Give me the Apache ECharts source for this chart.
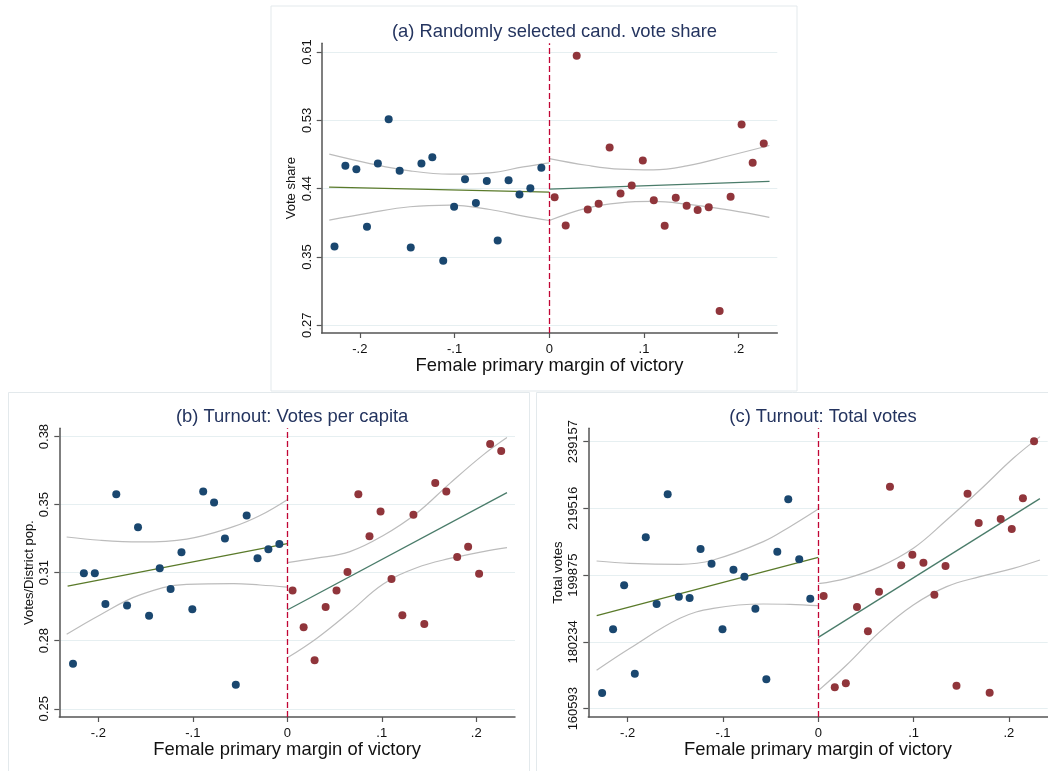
<!DOCTYPE html>
<html>
<head>
<meta charset="utf-8">
<script src="https://cdn.jsdelivr.net/npm/echarts@6/dist/echarts.min.js"></script>
<style>
html,body{margin:0;padding:0;background:#fff;}
#chart{width:1048px;height:771px;}
</style>
</head>
<body>
<div id="chart"></div>
<script>
// ---------- DATA ----------
const binsLeft = [-0.2268,-0.2153,-0.2037,-0.1925,-0.1810,-0.1696,-0.1580,-0.1463,-0.1350,-0.1235,-0.1120,-0.1005,-0.0890,-0.0775,-0.0660,-0.0545,-0.0430,-0.0315,-0.0200,-0.0084];
const binsRight = [0.0056,0.0173,0.0289,0.0406,0.0521,0.0637,0.0752,0.0870,0.0987,0.1103,0.1218,0.1335,0.1450,0.1566,0.1683,0.1798,0.1914,0.2030,0.2147,0.2264];

const xTicks = [-0.2,-0.1,0,0.1,0.2];
const xTickLabels = ['-.2','-.1','0','.1','.2'];

// (a) Randomly selected cand. vote share
const voteShareLeft = [0.3673,0.4687,0.4645,0.3920,0.4716,0.5274,0.4624,0.3660,0.4716,0.4797,0.3492,0.4171,0.4520,0.4218,0.4495,0.3749,0.4507,0.4327,0.4406,0.4662];
const voteShareRight = [0.4293,0.3937,0.6074,0.4138,0.4209,0.4918,0.4339,0.4440,0.4754,0.4255,0.3933,0.4285,0.4184,0.4130,0.4167,0.2860,0.4297,0.5207,0.4725,0.4968];
const fitXLeft = [-0.2325, 0];
const fitXRight = [0, 0.2325];
const voteShareFitLeft = [0.4419, 0.4356];
const voteShareFitRight = [0.4394, 0.4491];
const ciXLeftA = [-0.2323,-0.1894,-0.1471,-0.1049,-0.0627,-0.0275,0];
const ciXRightA = [0,0.0394,0.0746,0.1098,0.1450,0.1908,0.2323];
const voteShareCiLeftUp = [0.4834,0.4716,0.4624,0.4582,0.4599,0.4674,0.4725];
const voteShareCiLeftLo = [0.4004,0.4096,0.4172,0.4193,0.4138,0.4054,0.3999];
const voteShareCiRightUp = [0.4779,0.4695,0.4645,0.4636,0.4687,0.4817,0.4943];
const voteShareCiRightLo = [0.3999,0.4155,0.4222,0.4239,0.4205,0.4130,0.4038];
const yTicksA = [0.268,0.354,0.440,0.526,0.612];
const yTickLabelsA = ['0.27','0.35','0.44','0.53','0.61'];

// (b) Turnout: Votes per capita
const perCapitaLeft = [0.2688,0.3127,0.3127,0.2978,0.3510,0.2971,0.3350,0.2921,0.3151,0.3051,0.3229,0.2952,0.3523,0.3470,0.3295,0.2586,0.3407,0.3200,0.3243,0.3269];
const perCapitaRight = [0.3044,0.2865,0.2705,0.2963,0.3043,0.3133,0.3510,0.3306,0.3426,0.3099,0.2923,0.3411,0.2881,0.3565,0.3523,0.3206,0.3255,0.3125,0.3754,0.3720];
const perCapitaFitLeft = [0.3065, 0.3271];
const perCapitaFitRight = [0.2949, 0.3518];
const ciXLeftB = [-0.2335,-0.1982,-0.1559,-0.1065,-0.0571,-0.0289,0];
const ciXRightB = [0,0.0310,0.0663,0.1016,0.1369,0.1721,0.2074,0.2325];
const perCapitaCiLeftUp = [0.3303,0.3287,0.3279,0.3293,0.3353,0.3407,0.3484];
const perCapitaCiLeftLo = [0.2831,0.2925,0.3022,0.3073,0.3077,0.3070,0.3060];
const perCapitaCiRightUp = [0.3179,0.3200,0.3232,0.3310,0.3418,0.3563,0.3701,0.3785];
const perCapitaCiRightLo = [0.2717,0.2811,0.2940,0.3075,0.3154,0.3199,0.3232,0.3251];
const yTicksB = [0.247,0.280,0.313,0.346,0.379];
const yTickLabelsB = ['0.25','0.28','0.31','0.35','0.38'];

// (c) Turnout: Total votes
const totalLeft = [165203,183936,196883,170891,211006,191390,223660,193548,193156,207573,203258,183936,201492,199433,190017,169224,206789,222191,204533,192959];
const totalRight = [193744,166870,168047,190507,183348,195019,225914,202767,205906,203552,194136,202571,167361,223855,215224,165301,216401,213458,222482,239257];
const totalFitLeft = [187957, 205121];
const totalFitRight = [181582, 222383];
const ciXLeftC = [-0.2326,-0.1976,-0.1452,-0.1102,-0.0577,-0.0297,0];
const ciXRightC = [0,0.0297,0.0647,0.0997,0.1347,0.1696,0.2046,0.2326];
const totalCiLeftUp = [204043,203356,203062,204337,209731,214145,219343];
const totalCiLeftLo = [171872,178346,187173,190117,191390,191292,190900];
const totalCiRightUp = [197373,198942,202375,207769,216106,224933,234251,240626];
const totalCiRightLo = [165889,173441,183250,191096,196490,199433,201885,204337];
const yTicksC = [160593,180234,199875,219516,239157];
const yTickLabelsC = ['160593','180234','199875','219516','239157'];

const titles = ['(a) Randomly selected cand. vote share','(b) Turnout: Votes per capita','(c) Turnout: Total votes'];
const yNames = ['Vote share','Votes/District pop.','Total votes'];
const xName = 'Female primary margin of victory';

// ---------- STYLE / LAYOUT ----------
const FONT = '"Liberation Sans", Arial, Helvetica, sans-serif';
const BLUE = '#1a476f', RED = '#90353b', GREEN_L = '#5a7a2a', GREEN_R = '#4a7c6a', CI = '#bcbcbc';
const TITLE_C = '#24345f';

const panels = [
  {grid:{left:321.7, top:43.3, width:455.6, height:289.7}, xr:[-0.2403,0.2407], yr:[0.2583,0.623],
   yt:yTicksA, yl:yTickLabelsA, L:voteShareLeft, R:voteShareRight, fL:voteShareFitLeft, fR:voteShareFitRight,
   cxL:ciXLeftA, cxR:ciXRightA, cLU:voteShareCiLeftUp, cLL:voteShareCiLeftLo, cRU:voteShareCiRightUp, cRL:voteShareCiRightLo},
  {grid:{left:59.3, top:428.3, width:455.7, height:288.7}, xr:[-0.2413,0.241], yr:[0.243,0.383],
   yt:yTicksB, yl:yTickLabelsB, L:perCapitaLeft, R:perCapitaRight, fL:perCapitaFitLeft, fR:perCapitaFitRight,
   cxL:ciXLeftB, cxR:ciXRightB, cLU:perCapitaCiLeftUp, cLL:perCapitaCiLeftLo, cRU:perCapitaCiRightUp, cRL:perCapitaCiRightLo},
  {grid:{left:588.3, top:428.3, width:459.4, height:288.7}, xr:[-0.2413,0.2407], yr:[158141,243080],
   yt:yTicksC, yl:yTickLabelsC, L:totalLeft, R:totalRight, fL:totalFitLeft, fR:totalFitRight,
   cxL:ciXLeftC, cxR:ciXRightC, cLU:totalCiLeftUp, cLL:totalCiLeftLo, cRU:totalCiRightUp, cRL:totalCiRightLo}
];

function zip(xs, ys){ return xs.map((x,i)=>[x, ys[i]]); }
function labelFor(ticks, labels){
  return function(v){
    let best = 0, bd = Infinity;
    ticks.forEach((t,i)=>{ const d=Math.abs(t-v); if(d<bd){bd=d;best=i;} });
    return labels[best];
  };
}

const option = {
  backgroundColor:'#ffffff',
  animation:false,
  textStyle:{fontFamily:FONT},
  title:[], grid:[], xAxis:[], yAxis:[], series:[],
  graphic:[
    {type:'rect', shape:{x:271,y:6,width:526,height:385}, style:{fill:'none', stroke:'#e3e9ec', lineWidth:1}, silent:true},
    {type:'rect', shape:{x:8.5,y:392.5,width:521,height:390}, style:{fill:'none', stroke:'#e3e9ec', lineWidth:1}, silent:true},
    {type:'rect', shape:{x:536.5,y:392.5,width:530,height:390}, style:{fill:'none', stroke:'#e3e9ec', lineWidth:1}, silent:true}
  ]
};

panels.forEach((p, i) => {
  const g = p.grid;
  option.title.push({
    text:titles[i], left:g.left + g.width/2, textAlign:'center',
    top: i===0 ? 18 : 403,
    textStyle:{fontFamily:FONT, fontSize:18.4, fontWeight:'normal', color:TITLE_C}
  });
  option.grid.push({left:g.left, top:g.top, width:g.width, height:g.height, containLabel:false});
  option.xAxis.push({
    type:'value', gridIndex:i, min:p.xr[0], max:p.xr[1],
    name:xName, nameLocation:'middle', nameGap:24,
    nameTextStyle:{fontFamily:FONT, fontSize:18.4, color:'#111'},
    axisLine:{show:true, onZero:false, lineStyle:{color:'#555', width:1.5}},
    axisTick:{show:true, length:5, lineStyle:{color:'#555', width:1.2}, customValues:xTicks},
    axisLabel:{customValues:xTicks, formatter:labelFor(xTicks, xTickLabels), fontFamily:FONT, fontSize:13, color:'#111', margin:10, hideOverlap:false},
    splitLine:{show:false}
  });
  option.yAxis.push({
    type:'value', gridIndex:i, min:p.yr[0], max:p.yr[1],
    name:yNames[i], nameLocation:'middle', nameGap:23.5, nameRotate:90,
    nameTextStyle:{fontFamily:FONT, fontSize:13, color:'#111'},
    axisLine:{show:true, onZero:false, lineStyle:{color:'#555', width:1.5}},
    axisTick:{show:true, length:5, lineStyle:{color:'#555', width:1.2}, customValues:p.yt},
    axisLabel:{customValues:p.yt, rotate:90, formatter:labelFor(p.yt, p.yl), fontFamily:FONT, fontSize:13, color:'#111', margin:8, hideOverlap:false},
    splitLine:{show:true, lineStyle:{color:'#e6eff1', width:1}}
  });
  const base = {xAxisIndex:i, yAxisIndex:i, silent:true};
  const ciLine = (xs, ys) => Object.assign({}, base, {type:'line', data:zip(xs, ys), smooth:0.4, showSymbol:false, symbol:'none', lineStyle:{color:CI, width:1.2}, z:2});
  option.series.push(ciLine(p.cxL, p.cLU));
  option.series.push(ciLine(p.cxL, p.cLL));
  option.series.push(ciLine(p.cxR, p.cRU));
  option.series.push(ciLine(p.cxR, p.cRL));
  option.series.push(Object.assign({}, base, {type:'line', data:zip(fitXLeft, p.fL), showSymbol:false, symbol:'none', lineStyle:{color:GREEN_L, width:1.3}, z:3}));
  option.series.push(Object.assign({}, base, {type:'line', data:zip(fitXRight, p.fR), showSymbol:false, symbol:'none', lineStyle:{color:GREEN_R, width:1.3}, z:3,
    markLine:{silent:true, symbol:['none','none'], label:{show:false}, lineStyle:{color:'#c10534', type:[6,3], width:1.3},
      data:[{xAxis:0}]}}));
  option.series.push(Object.assign({}, base, {type:'scatter', data:zip(binsLeft, p.L), symbol:'circle', symbolSize:8, itemStyle:{color:BLUE, opacity:1}, z:4}));
  option.series.push(Object.assign({}, base, {type:'scatter', data:zip(binsRight, p.R), symbol:'circle', symbolSize:8, itemStyle:{color:RED, opacity:1}, z:4}));
});

const chart = echarts.init(document.getElementById('chart'), null, {renderer:'canvas'});
chart.setOption(option);
</script>
</body>
</html>
